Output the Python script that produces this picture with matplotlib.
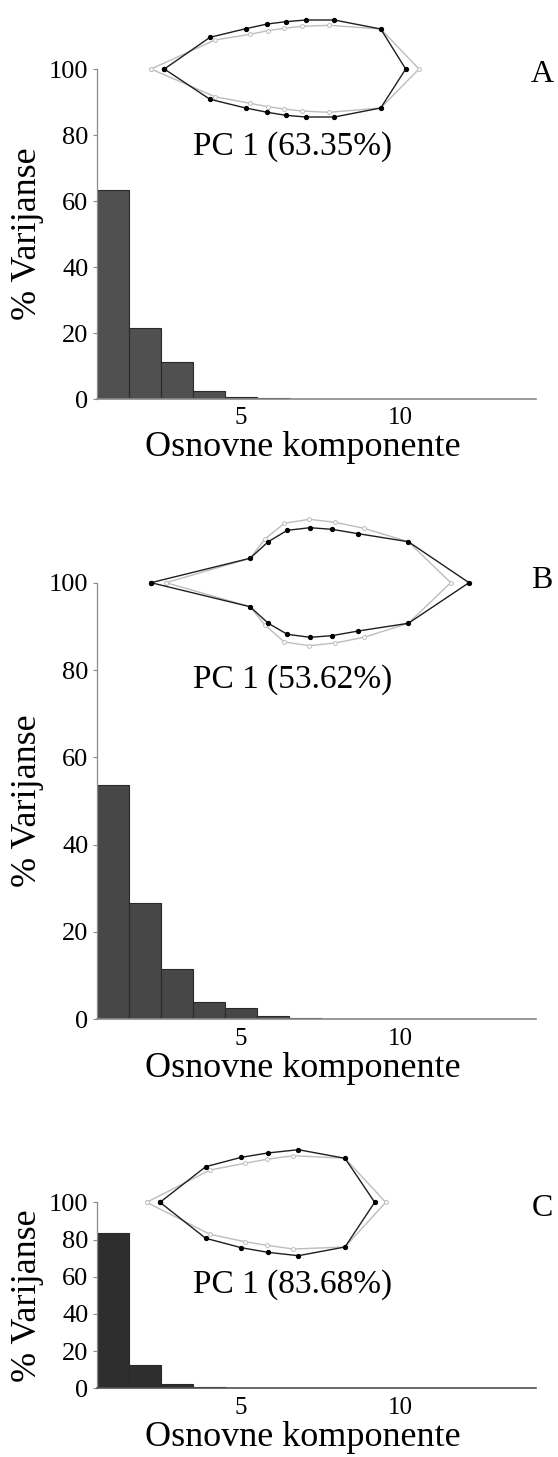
import matplotlib
matplotlib.use('Agg')
import matplotlib.pyplot as plt

plt.rcParams['font.family'] = ['Liberation Serif', 'DejaVu Serif']

W, H, DPI = 558, 1457, 100

components = list(range(1, 15))

# % variance per principal component
var_a = [63.35, 21.4, 11.2, 2.5, 0.55, 0.25, 0.15, 0.1, 0.08, 0.06, 0.05, 0.04, 0.03, 0.02]
var_b = [53.62, 26.7, 11.6, 3.9, 2.5, 0.7, 0.4, 0.15, 0.1, 0.08, 0.06, 0.05, 0.04, 0.03]
var_c = [83.68, 12.4, 2.5, 0.6, 0.3, 0.15, 0.1, 0.08, 0.06, 0.05, 0.04, 0.03, 0.02, 0.01]

pc_labels = ["PC 1 (63.35%)", "PC 1 (53.62%)", "PC 1 (83.68%)"]
panel_letters = ["A", "B", "C"]
y_ticks = [0, 20, 40, 60, 80, 100]
x_ticks = [5, 10]

# shape landmarks (outline units: u along the leaf, v across the midline)
# black = shape at extreme of PC1, gray = mean shape
a_black_u = [24.3, 70, 105.7, 127.3, 145.7, 165.7, 194.3, 240.7, 265.7, 240.7, 194.3, 165.7, 145.7, 127.3, 105.7, 70]
a_black_v = [0, 31.7, 40.3, 45, 47.3, 49, 49, 40, 0, -39, -48, -48, -46.3, -43.3, -39, -30.3]
a_gray_u = [11, 75, 110, 127.7, 144.3, 161.7, 189, 240.7, 279, 240.7, 189, 161.7, 144.3, 127.7, 110, 75]
a_gray_v = [0, 29, 34.7, 38.3, 40.7, 42.7, 43.7, 40, 0, -39, -43.3, -42, -40, -37.7, -34.3, -27.7]

b_black_u = [11, 110, 128.3, 147.3, 170, 191.7, 218.3, 268.3, 329, 268.3, 218.3, 191.7, 170, 147.3, 128.3, 110]
b_black_v = [0, 24.4, 41, 52.4, 55, 53.4, 49, 41, 0, -40.6, -48.3, -53, -54.6, -51.6, -40.6, -24]
b_gray_u = [26, 110, 125, 144.3, 169.3, 195, 224, 268.3, 310.7, 268.3, 224, 195, 169.3, 144.3, 125, 110]
b_gray_v = [0, 24.4, 43.7, 59.4, 63.4, 60.4, 54.4, 41, 0, -40.6, -54.6, -60.3, -63, -59.3, -42.3, -24]

c_black_u = [20, 65.7, 101.3, 127.7, 158.3, 205, 234.7, 205, 158.3, 127.7, 101.3, 65.7]
c_black_v = [0, 35.6, 45, 49.3, 52.6, 44, 0, -44.7, -53.4, -50, -45.4, -36]
c_gray_u = [6.7, 70, 105, 126.7, 153.3, 205, 245.7, 205, 153.3, 126.7, 105, 70]
c_gray_v = [0, 32.3, 39, 43, 46.6, 44, 0, -44.7, -46.7, -43, -39.4, -32]

panels = [
    dict(var=var_a, top=69, bottom=399, mid=69, pc_y=147, letter_y=75,
         black=(a_black_u, a_black_v), gray=(a_gray_u, a_gray_v),
         bar="#505050", spine="#8a8a8a"),
    dict(var=var_b, top=582.7, bottom=1019.3, mid=582.7, pc_y=680, letter_y=581,
         black=(b_black_u, b_black_v), gray=(b_gray_u, b_gray_v),
         bar="#474747", spine="#8a8a8a"),
    dict(var=var_c, top=1202.3, bottom=1388.3, mid=1202.3, pc_y=1285, letter_y=1208,
         black=(c_black_u, c_black_v), gray=(c_gray_u, c_gray_v),
         bar="#2e2e2e", spine="#50505e"),
]

fig = plt.figure(figsize=(W / DPI, H / DPI), dpi=DPI)

AX_L, AX_R = 96.7, 536

def fig_box(x0, y0, x1, y1):
    # pixel box (top-left origin) -> figure fraction rect
    return [x0 / W, 1 - y1 / H, (x1 - x0) / W, (y1 - y0) / H]

for i, p in enumerate(panels):
    ax = fig.add_axes(fig_box(AX_L, p["top"], AX_R, p["bottom"]))
    ax.bar(components, p["var"], width=1.0, color=p["bar"],
           edgecolor="#2a2a2a", linewidth=0.8)
    ax.set_xlim(0.5, 14.23)
    ax.set_ylim(0, 100)
    ax.set_yticks(y_ticks)
    ax.set_xticks(x_ticks)
    ax.spines["top"].set_visible(False)
    ax.spines["right"].set_visible(False)
    ax.spines["left"].set_color("#8a8a8a")
    ax.spines["bottom"].set_color(p["spine"])
    ax.spines["left"].set_linewidth(0.9)
    ax.spines["bottom"].set_linewidth(1.2)
    ax.tick_params(axis="y", labelsize=19, length=3, width=0.8,
                   color="#8a8a8a", pad=3)
    ax.tick_params(axis="x", labelsize=18, length=0, pad=6)

    h = p["bottom"] - p["top"]
    w = AX_R - AX_L
    ax.set_xlabel("Osnovne komponente", fontsize=26, va="center")
    ax.xaxis.set_label_coords((302.5 - AX_L) / w, -49 / h)
    ax.set_ylabel("% Varijanse", fontsize=26, va="center")
    ax.yaxis.set_label_coords((28 - AX_L) / w, 0.5)

    # outline inset
    ins = fig.add_axes(fig_box(140, p["mid"] - 75, 480, p["mid"] + 75))
    ins.set_xlim(0, 340)
    ins.set_ylim(-75, 75)
    ins.axis("off")
    gu, gv = p["gray"]
    bu, bv = p["black"]
    ins.plot(gu + gu[:1], gv + gv[:1], color="#bdbdbd", lw=1.0,
             marker="o", ms=2.8, mfc="white", mec="#bdbdbd", mew=0.7)
    ins.plot(bu + bu[:1], bv + bv[:1], color="#1e1e1e", lw=1.0,
             marker="o", ms=2.8, mfc="black", mec="black")

    fig.text(293 / W, 1 - p["pc_y"] / H, pc_labels[i], fontsize=24,
             ha="center", va="center")
    fig.text(542 / W, 1 - p["letter_y"] / H, panel_letters[i], fontsize=23,
             ha="center", va="center")

fig.savefig("out.png", dpi=DPI)
